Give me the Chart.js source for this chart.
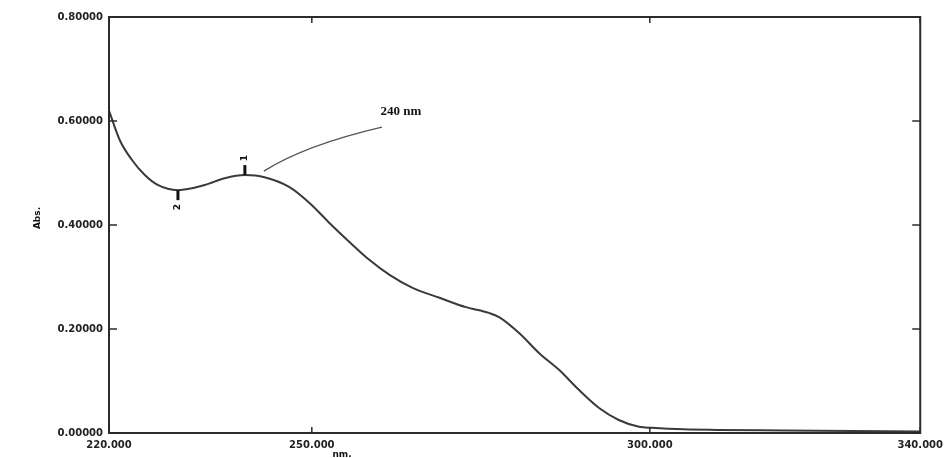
<!DOCTYPE html>
<html>
<head>
<meta charset="utf-8">
<script src="https://cdn.jsdelivr.net/npm/chart.js@4.4.1/dist/chart.umd.min.js"></script>
<style>
  html, body { margin: 0; padding: 0; background: #fff; }
  #wrap { width: 949px; height: 458px; position: relative; }
</style>
</head>
<body>
<div id="wrap"><canvas id="spectrum"></canvas></div>
<script>
/* UV spectrum — absorbance vs wavelength */
const wavelengths = [220, 221.6, 223.4, 225.3, 227.2, 230.2, 234.2, 237.1, 240.1, 243.0, 246.7, 249.7,
  252.6, 255.6, 258.5, 261.5, 264.9, 268.9, 272.8, 276.2, 277.7, 280.7, 283.6, 286.6, 289.5,
  292.5, 295.4, 298.4, 300.3, 305, 310, 320, 330, 340];
const absorbance = [0.620, 0.563, 0.525, 0.496, 0.477, 0.467, 0.477, 0.490, 0.496, 0.492, 0.473, 0.442,
  0.404, 0.367, 0.333, 0.304, 0.279, 0.260, 0.242, 0.231, 0.223, 0.192, 0.154, 0.121, 0.083,
  0.048, 0.025, 0.012, 0.010, 0.007, 0.006, 0.005, 0.004, 0.003];
const xTicks = [220, 250, 300, 340];
const yTicks = [0, 0.2, 0.4, 0.6, 0.8];
const peakNm = [240.1, 230.2];
const peakAbs = [0.496, 0.467];
const peakLabels = ["1", "2"];
const calloutText = "240 nm";

const ink = "#2b2b2b";
const tickFont = { family: "'DejaVu Sans', sans-serif", size: 10, weight: "bold" };

// box, inward ticks, peak markers and callout
const decor = {
  id: "decor",
  afterDraw(chart) {
    const { ctx, chartArea: a, scales: { x, y } } = chart;
    ctx.save();
    ctx.strokeStyle = ink;
    ctx.lineWidth = 2;
    ctx.strokeRect(a.left, a.top, a.right - a.left, a.bottom - a.top);
    ctx.lineWidth = 1.5;
    ctx.beginPath();
    xTicks.forEach((v) => {
      const px = x.getPixelForValue(v);
      ctx.moveTo(px, a.bottom); ctx.lineTo(px, a.bottom - 6);
      ctx.moveTo(px, a.top); ctx.lineTo(px, a.top + 6);
    });
    yTicks.forEach((v) => {
      const py = y.getPixelForValue(v);
      ctx.moveTo(a.left, py); ctx.lineTo(a.left + 8, py);
      ctx.moveTo(a.right, py); ctx.lineTo(a.right - 8, py);
    });
    ctx.stroke();

    // peak / valley markers
    ctx.fillStyle = "#111";
    ctx.font = "bold 9px 'DejaVu Sans', sans-serif";
    ctx.textAlign = "center";
    ctx.textBaseline = "middle";
    peakNm.forEach((nm, i) => {
      const px = x.getPixelForValue(nm);
      const py = y.getPixelForValue(peakAbs[i]);
      const dir = i === 0 ? -1 : 1;
      ctx.fillRect(px - 1.5, dir < 0 ? py - 10 : py, 3, 10);
      ctx.save();
      ctx.translate(px, py + dir * 17);
      ctx.rotate(-Math.PI / 2);
      ctx.fillText(peakLabels[i], 0, 0);
      ctx.restore();
    });

    // callout for 240 nm
    const px = x.getPixelForValue(peakNm[0]);
    const py = y.getPixelForValue(peakAbs[0]);
    ctx.strokeStyle = "#555";
    ctx.lineWidth = 1.3;
    ctx.beginPath();
    ctx.moveTo(px + 19, py - 4);
    ctx.quadraticCurveTo(px + 60, py - 30, px + 137, py - 48);
    ctx.stroke();
    ctx.fillStyle = "#111";
    ctx.font = "bold 13px 'Liberation Serif', 'DejaVu Serif', serif";
    ctx.fillText(calloutText, px + 156, py - 63);

    // axis titles
    ctx.font = "bold 9px 'DejaVu Sans', sans-serif";
    ctx.save();
    ctx.translate(38, 218);
    ctx.rotate(-Math.PI / 2);
    ctx.fillText("Abs.", 0, 0);
    ctx.restore();
    ctx.fillText("nm.", 342, 455);
    ctx.restore();
  },
};

new Chart(document.getElementById("spectrum"), {
  type: "line",
  data: {
    datasets: [
      {
        data: wavelengths.map((w, i) => ({ x: w, y: absorbance[i] })),
        borderColor: "#3a3a3a",
        borderWidth: 2,
        pointRadius: 0,
        cubicInterpolationMode: "monotone",
        fill: false,
      },
    ],
  },
  options: {
    responsive: true,
    maintainAspectRatio: false,
    animation: false,
    layout: { padding: { top: 17, right: 27, left: 0, bottom: 0 } },
    plugins: { legend: { display: false }, tooltip: { enabled: false } },
    scales: {
      x: {
        type: "linear",
        min: 220,
        max: 340,
        afterBuildTicks: (s) => { s.ticks = xTicks.map((v) => ({ value: v })); },
        afterFit: (s) => { s.height = 25; },
        grid: { display: false, drawTicks: false },
        border: { display: false },
        ticks: { color: "#222", font: tickFont, padding: 6, maxRotation: 0, autoSkip: false,
          callback: (v) => Number(v).toFixed(3) },
      },
      y: {
        min: 0,
        max: 0.8,
        afterBuildTicks: (s) => { s.ticks = yTicks.map((v) => ({ value: v })); },
        afterFit: (s) => { s.width = 109; },
        grid: { display: false, drawTicks: false },
        border: { display: false },
        ticks: { color: "#222", font: tickFont, padding: 6,
          callback: (v) => Number(v).toFixed(5) },
      },
    },
  },
  plugins: [decor],
});
</script>
</body>
</html>
